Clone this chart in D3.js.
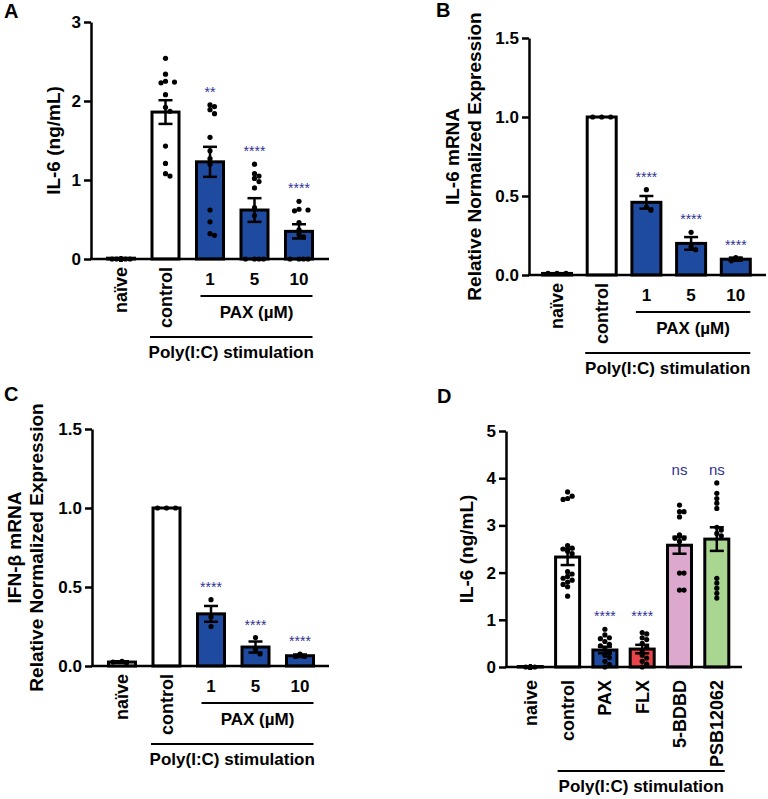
<!DOCTYPE html>
<html>
<head>
<meta charset="utf-8">
<script src="https://cdn.jsdelivr.net/npm/d3@7"></script>
<style>
	body { margin: 0; background: #fff; }
	svg { font-family: Arial, 'Liberation Sans', sans-serif; font-weight: bold; }
</style>
</head>
<body>
<script>
// categories
var catsPax = ["naïve", "control", "1", "5", "10"];
var catsD = ["naive", "control", "PAX", "FLX", "5-BDBD", "PSB12062"];

// A: IL-6 protein (ng/mL)
var meanA = [0.01, 1.86, 1.23, 0.62, 0.35];
var semA = [0, 0.15, 0.19, 0.15, 0.09];
var dotsA = [
	[0, 0, 0, 0, 0, 0, 0, 0, 0, 0, 0, 0],
	[2.54, 2.34, 2.25, 2.24, 2.23, 2.08, 1.92, 1.87, 1.43, 1.21, 1.08, 1.05],
	[1.95, 1.93, 1.89, 1.84, 1.54, 1.37, 1.27, 1.20, 0.62, 0.47, 0.32, 0.30],
	[1.20, 1.08, 1.05, 1.02, 0.98, 0.90, 0.65, 0.55, 0, 0, 0, 0],
	[0.73, 0.63, 0.62, 0.61, 0.46, 0.37, 0.31, 0.28, 0, 0, 0, 0]
];
var sigA = ["", "", "**", "****", "****"];

// B: IL-6 mRNA
var meanB = [0.01, 1.0, 0.46, 0.20, 0.10];
var semB = [0, 0, 0.04, 0.04, 0.01];
var dotsB = [[0.01, 0.01, 0.01], [1, 1, 1], [0.54, 0.43, 0.41], [0.27, 0.18, 0.16], [0.11, 0.10, 0.09]];
var sigB = ["", "", "****", "****", "****"];

// C: IFN-beta mRNA
var meanC = [0.025, 1.0, 0.33, 0.12, 0.065];
var semC = [0.005, 0, 0.05, 0.035, 0.008];
var dotsC = [[0.03, 0.02, 0.025], [1, 1, 1], [0.42, 0.31, 0.25], [0.18, 0.105, 0.076], [0.075, 0.06, 0.06]];
var sigC = ["", "", "****", "****", "****"];

// D: IL-6 protein, other compounds
var meanD = [0.01, 2.33, 0.36, 0.38, 2.58, 2.71];
var semD = [0, 0.17, 0.07, 0.09, 0.18, 0.25];
var dotsD = [
	[0, 0, 0, 0, 0, 0, 0, 0, 0, 0, 0, 0, 0, 0, 0],
	[3.71, 3.62, 3.57, 3.55, 2.57, 2.52, 2.50, 2.45, 2.40, 2.02, 1.97, 1.92, 1.88, 1.84, 1.80, 1.75, 1.70, 1.50],
	[0.80, 0.68, 0.62, 0.60, 0.54, 0.48, 0.45, 0.38, 0.30, 0.25, 0.20, 0.12, 0.05, 0],
	[0.73, 0.70, 0.62, 0.58, 0.50, 0.42, 0.35, 0.25, 0.19, 0.12, 0.06, 0],
	[3.43, 3.29, 3.29, 3.18, 2.80, 2.73, 2.73, 2.66, 1.99, 1.99, 1.63, 1.63],
	[3.90, 3.68, 3.57, 3.47, 3.36, 2.96, 2.90, 2.83, 2.78, 1.88, 1.78, 1.67, 1.56, 1.46]
];
var sigD = ["", "", "****", "****", "ns", "ns"];

var ticksIL = [0, 1, 2, 3];
var ticksRel = [0, 0.5, 1, 1.5];
var ticksD = [0, 1, 2, 3, 4, 5];

// colours
var blue = "#1e4a9f", starColor = "#2e3192";
var fillsPax = ["#fff", "#fff", blue, blue, blue];
var fillsD = ["#fff", "#fff", blue, "#e8444a", "#dca8cd", "#a9d691"];

var svg = d3.select("body").append("svg")
	.attr("width", 768)
	.attr("height", 799);

var panels = [
	{ letter: "A", lx: 4, ly: 18, cats: catsPax, mean: meanA, sem: semA, dots: dotsA, sig: sigA, fills: fillsPax,
	  ax: 91, xEnd: 329, y0: 259, yTop: 22, max: 3, ticks: ticksIL, fmt: d3.format("d"),
	  titles: ["IL-6 (ng/mL)"], titleX: [53], first: 30, step: 44.5, bw: 27, rotFrom: 2, gap: 8, pax: true },
	{ letter: "B", lx: 436, ly: 17, cats: catsPax, mean: meanB, sem: semB, dots: dotsB, sig: sigB, fills: fillsPax,
	  ax: 529, xEnd: 766, y0: 275, yTop: 38, max: 1.5, ticks: ticksRel, fmt: d3.format(".1f"),
	  titles: ["IL-6 mRNA", "Relative Normalized Expression"], titleX: [452, 474], first: 28, step: 44.7, bw: 29, rotFrom: 2, gap: 8, pax: true },
	{ letter: "C", lx: 4, ly: 401, cats: catsPax, mean: meanC, sem: semC, dots: dotsC, sig: sigC, fills: fillsPax,
	  ax: 92, xEnd: 329, y0: 666, yTop: 429, max: 1.5, ticks: ticksRel, fmt: d3.format(".1f"),
	  titles: ["IFN-β mRNA", "Relative Normalized Expression"], titleX: [14, 36], first: 30, step: 44.5, bw: 27, rotFrom: 2, gap: 8, pax: true },
	{ letter: "D", lx: 437, ly: 403, cats: catsD, mean: meanD, sem: semD, dots: dotsD, sig: sigD, fills: fillsD,
	  ax: 506, xEnd: 742, y0: 667, yTop: 431, max: 5, ticks: ticksD, fmt: d3.format("d"),
	  titles: ["IL-6 (ng/mL)"], titleX: [466], first: 24.3, step: 37.3, bw: 24, rotFrom: 6, gap: 13, pax: false, align: true }
];

panels.forEach(drawPanel);

// simple beeswarm so dots with near-equal values sit side by side
function swarm(vals, cx, y, step, maxOff) {
	var placed = [];
	return vals.map(function (v) {
		var py = y(v), best = 0, bestD = -1;
		for (var k = 0; k <= 12; k++) {
			var off = (k % 2 ? 1 : -1) * Math.ceil(k / 2) * step;
			if (Math.abs(off) > maxOff) continue;
			var d = d3.min(placed, p => Math.hypot(p.x - (cx + off), p.y - py));
			if (d === undefined || d >= 4.6) { best = off; break; }
			if (d > bestD) { bestD = d; best = off; }
		}
		var pt = { x: cx + best, y: py };
		placed.push(pt);
		return pt;
	});
}

function drawPanel(p) {
	var g = svg.append("g");
	var n = p.cats.length;
	var pad = 1 - p.bw / p.step;
	var start = p.ax + p.first - p.step / 2;
	var x = d3.scaleBand().domain(p.cats)
		.range([start, start + n * p.step])
		.paddingInner(pad).paddingOuter(pad / 2);
	var y = d3.scaleLinear().domain([0, p.max]).range([p.y0, p.yTop]);
	var cx = c => x(c) + x.bandwidth() / 2;

	g.append("text").attr("x", p.lx).attr("y", p.ly)
		.style("font-size", "20px").text(p.letter);

	// bars
	g.selectAll("rect.bar").data(p.cats).enter().append("rect")
		.attr("x", c => x(c))
		.attr("width", x.bandwidth())
		.attr("y", (c, i) => y(p.mean[i]))
		.attr("height", (c, i) => p.y0 - y(p.mean[i]))
		.attr("fill", (c, i) => p.fills[i])
		.attr("stroke", "#000")
		.attr("stroke-width", 3);

	// dots
	p.cats.forEach(function (c, i) {
		var pts = swarm(p.dots[i], cx(c), y, 4.5, x.bandwidth() / 2 - 3);
		g.selectAll(null).data(pts).enter().append("circle")
			.attr("cx", d => d.x).attr("cy", d => d.y)
			.attr("r", 2.6).attr("fill", "#000");
	});

	// error bars (SEM)
	p.cats.forEach(function (c, i) {
		if (!p.sem[i]) return;
		var lo = y(p.mean[i] - p.sem[i]), hi = y(p.mean[i] + p.sem[i]), xc = cx(c);
		var eb = g.append("g").attr("stroke", "#000").attr("stroke-width", 2.5);
		eb.append("line").attr("x1", xc).attr("x2", xc).attr("y1", lo).attr("y2", hi);
		[lo, hi].forEach(v => eb.append("line").attr("x1", xc - 7).attr("x2", xc + 7).attr("y1", v).attr("y2", v));
	});

	// significance labels
	var sigY = p.cats.map((c, i) => y(d3.max(p.dots[i])) - 8);
	if (p.align) {
		sigY = sigY.map((v, i) => d3.min(sigY.filter((w, j) => p.sig[j] == p.sig[i])));
	}
	p.cats.forEach(function (c, i) {
		if (!p.sig[i]) return;
		g.append("text").attr("x", cx(c)).attr("y", sigY[i])
			.attr("text-anchor", "middle")
			.style("font-size", p.sig[i] == "ns" ? "15px" : "14px")
			.style("font-weight", "normal")
			.attr("fill", starColor).text(p.sig[i]);
	});

	// axes
	var yAxis = g.append("g").attr("transform", `translate(${p.ax},0)`)
		.call(d3.axisLeft(y).tickValues(p.ticks).tickFormat(p.fmt).tickSize(7).tickPadding(3).tickSizeOuter(0));
	yAxis.selectAll("path, line").attr("stroke", "#000").attr("stroke-width", 2.5);
	yAxis.selectAll("text").attr("fill", "#000").style("font-size", "17px")
		.style("font-family", "Arial, 'Liberation Sans', sans-serif").style("font-weight", "bold");

	g.append("line").attr("x1", p.ax - 1).attr("x2", p.xEnd)
		.attr("y1", p.y0).attr("y2", p.y0)
		.attr("stroke", "#000").attr("stroke-width", 2.5);

	// y titles
	var mid = (p.y0 + p.yTop) / 2;
	p.titles.forEach(function (t, k) {
		g.append("text")
			.attr("transform", `translate(${p.titleX[k]},${mid}) rotate(-90)`)
			.attr("text-anchor", "middle").attr("dy", "0.35em")
			.style("font-size", "19px").text(t);
	});

	// category labels
	p.cats.forEach(function (c, i) {
		if (i < p.rotFrom) {
			g.append("text")
				.attr("transform", `translate(${cx(c)},${p.y0 + p.gap}) rotate(-90)`)
				.attr("text-anchor", "end").attr("dy", "0.35em")
				.style("font-size", "18px").text(c);
		} else {
			g.append("text").attr("x", cx(c)).attr("y", p.y0 + 26)
				.attr("text-anchor", "middle")
				.style("font-size", "17px").text(c);
		}
	});

	var last = p.cats[n - 1];
	if (p.pax) {
		var pa = x(p.cats[2]) + 4, pb = x(last) + x.bandwidth();
		g.append("line").attr("x1", pa).attr("x2", pb)
			.attr("y1", p.y0 + 37).attr("y2", p.y0 + 37)
			.attr("stroke", "#000").attr("stroke-width", 2);
		g.append("text").attr("x", (pa + pb) / 2).attr("y", p.y0 + 59)
			.attr("text-anchor", "middle").style("font-size", "17px").text("PAX (µM)");
	}
	var lineY = p.pax ? p.y0 + 78 : p.y0 + 104;
	var qa = x(p.cats[1]) - (p.pax ? 2 : -2), qb = x(last) + x.bandwidth() - (p.pax ? 0 : 4);
	g.append("line").attr("x1", qa).attr("x2", qb)
		.attr("y1", lineY).attr("y2", lineY)
		.attr("stroke", "#000").attr("stroke-width", 2);
	g.append("text").attr("x", (qa + qb) / 2).attr("y", lineY + 21)
		.attr("text-anchor", "middle").style("font-size", "17px").text("Poly(I:C) stimulation");
}
</script>
</body>
</html>
